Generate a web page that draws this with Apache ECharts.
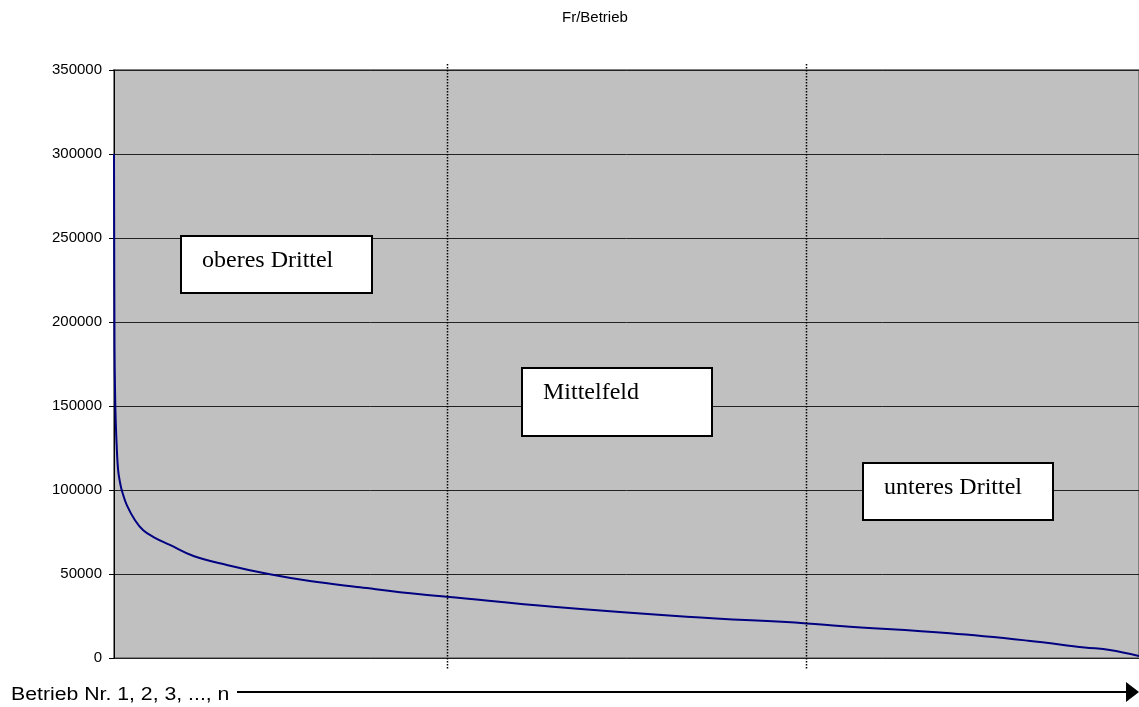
<!DOCTYPE html>
<html>
<head>
<meta charset="utf-8">
<script src="https://cdn.jsdelivr.net/npm/echarts@6/dist/echarts.min.js"></script>
<style>
  html, body { margin: 0; padding: 0; background: #fff; }
  #chart { width: 1139px; height: 707px; }
</style>
</head>
<body>
<div id="chart"></div>
<script>
// Ranked businesses (Betrieb Nr.) and their value in Fr per business
const ranks  = [1, 2, 3, 4, 6, 9, 13, 17, 26, 42, 58, 78, 110, 156, 221, 305, 383, 481, 598, 650,
                857, 1118, 1352, 1417, 1631, 1784, 1894, 1943, 2000];
const values = [300000, 185000, 160000, 145000, 128000, 112000, 104000, 99000, 91000, 82000, 76000, 72000,
                67300, 60700, 55400, 49800, 45800, 42100, 37900, 36500,
                30500, 24600, 20600, 19000, 14700, 10300, 6300, 4800, 1200];
const rankMax = 2000;

// Y axis range and step
const yMin = 0, yMax = 350000, yStep = 50000;

// Boundaries between the three groups (rank numbers)
const dividers = [650, 1350];

// Group labels
const groupLabels = ['oberes Drittel', 'Mittelfeld', 'unteres Drittel'];

const titleText = 'Fr/Betrieb';
const axisCaption = 'Betrieb Nr. 1, 2, 3, ..., n';

// Box placement for the group labels (pixels)
const boxLayout = [
  { x: 181, y: 236, w: 191, h: 57 },
  { x: 522, y: 368, w: 190, h: 68 },
  { x: 863, y: 463, w: 190, h: 57 }
];

const chart = echarts.init(document.getElementById('chart'), null, { renderer: 'canvas' });

const seriesData = ranks.map((r, i) => [r, values[i]]);

chart.setOption({
  animation: false,
  backgroundColor: '#ffffff',
  title: {
    text: titleText,
    left: 562,
    top: 10,
    padding: 0,
    textStyle: { fontFamily: 'Liberation Sans, Arial, sans-serif', fontSize: 15, fontWeight: 'normal', color: '#000' }
  },
  grid: {
    left: 114, top: 70, right: 0, bottom: 49,
    show: true,
    backgroundColor: '#C0C0C0',
    borderColor: '#808080',
    borderWidth: 2
  },
  xAxis: {
    type: 'value',
    min: 1,
    max: rankMax,
    axisLine: { show: false },
    axisTick: { show: false },
    axisLabel: { show: false },
    splitLine: { show: false }
  },
  yAxis: {
    type: 'value',
    min: yMin,
    max: yMax,
    interval: yStep,
    axisLine: { show: true, lineStyle: { color: '#000', width: 1 } },
    axisTick: { show: true, length: 5, lineStyle: { color: '#000' } },
    axisLabel: {
      margin: 12,
      color: '#000',
      fontFamily: 'Liberation Sans, Arial, sans-serif',
      fontSize: 15,
      formatter: v => String(v)
    },
    splitLine: { show: true, lineStyle: { color: '#222', width: 1 } }
  },
  series: [{
    type: 'line',
    data: seriesData,
    smooth: 0.4,
    showSymbol: false,
    lineStyle: { color: '#000080', width: 2 },
    z: 3
  }]
});

// Overlay: dotted group boundaries, labelled boxes, and the rank arrow below the plot
const graphics = [];
dividers.forEach(d => {
  const px = Math.round(chart.convertToPixel({ xAxisIndex: 0 }, d)) + 0.5;
  graphics.push({
    type: 'line',
    shape: { x1: px, y1: 64, x2: px, y2: 670 },
    style: { stroke: '#000', lineWidth: 1.5, lineDash: [1.5, 1.5] },
    z: 10
  });
});

groupLabels.forEach((label, i) => {
  const b = boxLayout[i];
  graphics.push({
    type: 'rect',
    shape: { x: b.x, y: b.y, width: b.w, height: b.h },
    style: { fill: '#ffffff', stroke: '#000', lineWidth: 2 },
    z: 20
  });
  graphics.push({
    type: 'text',
    x: b.x + 21,
    y: b.y + 25,
    style: {
      text: label,
      fill: '#000',
      font: '24px "Liberation Serif", "Times New Roman", serif',
      textVerticalAlign: 'middle'
    },
    z: 21
  });
});

graphics.push({
  type: 'text',
  x: 11,
  y: 695,
  scaleX: 1.18,
  style: {
    text: axisCaption,
    fill: '#000',
    font: '18px "Liberation Sans", Arial, sans-serif',
    textVerticalAlign: 'middle'
  },
  z: 20
});
graphics.push({
  type: 'line',
  shape: { x1: 237, y1: 692, x2: 1128, y2: 692 },
  style: { stroke: '#000', lineWidth: 2 },
  z: 20
});
graphics.push({
  type: 'polygon',
  shape: { points: [[1126, 682], [1139, 692], [1126, 702]] },
  style: { fill: '#000' },
  z: 20
});

chart.setOption({ graphic: graphics });
</script>
</body>
</html>
